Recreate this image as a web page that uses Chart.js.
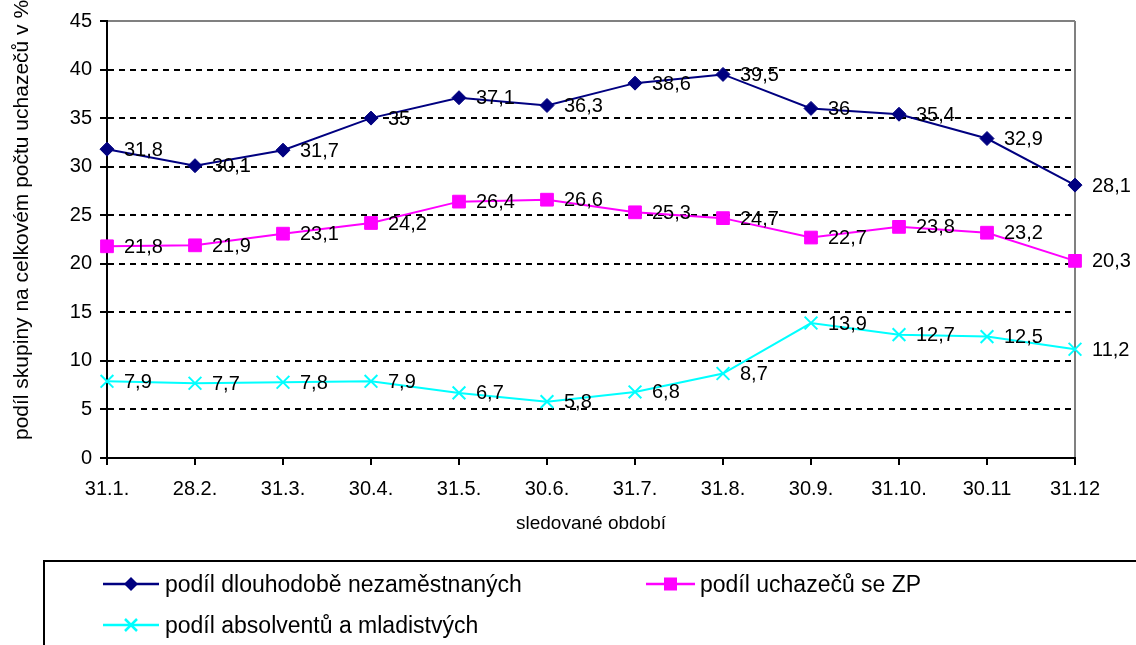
<!DOCTYPE html>
<html>
<head>
<meta charset="utf-8">
<script src="https://cdn.jsdelivr.net/npm/chart.js@4.4.0/dist/chart.umd.min.js"></script>
<style>
  html, body { margin: 0; padding: 0; background: #fff; }
  #wrap { position: relative; width: 1136px; height: 645px; overflow: hidden; background: #fff; }
  #c { position: absolute; left: 0; top: 0; }
  #legend { position: absolute; left: 43px; top: 560px; width: 1110px; height: 100px;
            border: 2px solid #000; box-sizing: border-box;
            font-family: 'Liberation Sans', Arial, sans-serif; font-size: 23px; color: #000; }
  .item { position: absolute; display: flex; align-items: center; height: 30px; white-space: nowrap; }
  .item svg { display: block; }
</style>
</head>
<body>
<div id="wrap">
  <canvas id="c" width="1136" height="645"></canvas>
  <div id="legend"></div>
</div>
<script>
const categories = ['31.1.', '28.2.', '31.3.', '30.4.', '31.5.', '30.6.', '31.7.', '31.8.', '30.9.', '31.10.', '30.11', '31.12'];
const longTermUnemployed = [31.8, 30.1, 31.7, 35, 37.1, 36.3, 38.6, 39.5, 36, 35.4, 32.9, 28.1];
const disabledApplicants = [21.8, 21.9, 23.1, 24.2, 26.4, 26.6, 25.3, 24.7, 22.7, 23.8, 23.2, 20.3];
const graduatesYouth = [7.9, 7.7, 7.8, 7.9, 6.7, 5.8, 6.8, 8.7, 13.9, 12.7, 12.5, 11.2];
const seriesNames = ['podíl dlouhodobě nezaměstnaných', 'podíl uchazečů se ZP', 'podíl absolventů a mladistvých'];
const yMin = 0, yMax = 45, yStep = 5;
const xTitle = 'sledované období';
const yTitle = 'podíl skupiny na celkovém počtu uchazečů v %';

const FONT = "'Liberation Sans', Arial, sans-serif";

const dataLabels = {
  id: 'dataLabels',
  afterDatasetsDraw(chart) {
    const ctx = chart.ctx;
    ctx.save();
    ctx.font = '20px ' + FONT;
    ctx.fillStyle = '#000';
    ctx.textAlign = 'left';
    ctx.textBaseline = 'middle';
    chart.data.datasets.forEach((ds, di) => {
      const meta = chart.getDatasetMeta(di);
      meta.data.forEach((pt, i) => {
        const txt = String(ds.data[i]).replace('.', ',');
        ctx.fillText(txt, pt.x + 17, pt.y + 1);
      });
    });
    ctx.restore();
  }
};

// y-axis title, drawn beside the y scale (bottom-anchored like the original)
const yAxisTitle = {
  id: 'yAxisTitle',
  afterDraw(chart) {
    const ctx = chart.ctx;
    const ys = chart.scales.y;
    ctx.save();
    ctx.translate(22, ys.bottom - 18);
    ctx.rotate(-Math.PI / 2);
    ctx.font = '21px ' + FONT;
    ctx.fillStyle = '#000';
    ctx.textAlign = 'left';
    ctx.textBaseline = 'middle';
    ctx.fillText(yTitle, 0, 0);
    ctx.restore();
  }
};

Chart.defaults.font.family = FONT;
Chart.defaults.color = '#000';

new Chart(document.getElementById('c'), {
  type: 'line',
  data: {
    labels: categories,
    datasets: [
      { label: seriesNames[0], data: longTermUnemployed, borderColor: '#000080', backgroundColor: '#000080',
        borderWidth: 2, pointStyle: 'rectRot', pointRadius: 7, pointBorderWidth: 1, pointHoverRadius: 7, clip: false, tension: 0 },
      { label: seriesNames[1], data: disabledApplicants, borderColor: '#FF00FF', backgroundColor: '#FF00FF',
        borderWidth: 2, pointStyle: 'rect', pointRadius: 9, pointBorderWidth: 1, pointHoverRadius: 9, clip: false, tension: 0 },
      { label: seriesNames[2], data: graduatesYouth, borderColor: '#00FFFF', backgroundColor: '#00FFFF',
        borderWidth: 2, pointStyle: 'crossRot', pointRadius: 9, pointBorderWidth: 2, pointHoverRadius: 9, clip: false, tension: 0 }
    ]
  },
  options: {
    responsive: false,
    animation: false,
    devicePixelRatio: 1,
    events: [],
    layout: { padding: { left: 0, right: 61, top: 21, bottom: 107 } },
    plugins: { legend: { display: false }, tooltip: { enabled: false } },
    scales: {
      x: {
        type: 'category',
        offset: false,
        afterFit(scale) { scale.height = 80; },
        grid: {
          color: c => (c.index === categories.length - 1 ? '#808080' : 'rgba(0,0,0,0)'),
          lineWidth: 2,
          tickLength: 7,
          tickColor: '#000',
          tickWidth: 2
        },
        border: { display: true, color: '#000', width: 2 },
        ticks: { font: { size: 20 }, padding: 12, maxRotation: 0, autoSkip: false },
        title: { display: true, text: xTitle, font: { size: 19 }, padding: { top: 0, bottom: 3 } }
      },
      y: {
        min: yMin, max: yMax,
        afterFit(scale) { scale.width = 107; },
        grid: {
          color: c => (c.tick && c.tick.value === yMax ? '#808080' : (c.tick && c.tick.value === yMin ? 'rgba(0,0,0,0)' : '#000')),
          lineWidth: 2,
          tickLength: 7,
          tickColor: '#000',
          tickWidth: 2,
          tickBorderDash: []
        },
        border: { display: true, color: '#000', width: 2,
          dash: c => (c.tick && c.tick.value !== yMax ? [6, 5] : []) },
        ticks: { stepSize: yStep, font: { size: 20 }, padding: 8 },
        title: { display: false }
      }
    }
  },
  plugins: [dataLabels, yAxisTitle]
});

// HTML legend
const markerSvg = (i, w) => {
  const colors = ['#000080', '#FF00FF', '#00FFFF'];
  const c = colors[i];
  const m0 = w / 2;
  let m = '';
  if (i === 0) m = `<polygon points="${m0},3 ${m0 + 7},10 ${m0},17 ${m0 - 7},10" fill="${c}"/>`;
  if (i === 1) m = `<rect x="${m0 - 6.5}" y="3.5" width="13" height="13" fill="${c}"/>`;
  if (i === 2) m = `<path d="M${m0 - 6},4 L${m0 + 6},16 M${m0 + 6},4 L${m0 - 6},16" stroke="${c}" stroke-width="2.5"/>`;
  return `<svg width="${w}" height="20" viewBox="0 0 ${w} 20"><line x1="0" y1="10" x2="${w}" y2="10" stroke="${c}" stroke-width="2.5"/>${m}</svg>`;
};
const legendPos = [[58, 7, 56, 6], [601, 7, 49, 5], [58, 48, 56, 6]];
const lg = document.getElementById('legend');
seriesNames.forEach((n, i) => {
  const d = document.createElement('div');
  d.className = 'item';
  d.style.left = legendPos[i][0] + 'px';
  d.style.top = legendPos[i][1] + 'px';
  d.innerHTML = markerSvg(i, legendPos[i][2]) + `<span style="margin-left:${legendPos[i][3]}px">` + n + '</span>';
  lg.appendChild(d);
});
</script>
</body>
</html>
